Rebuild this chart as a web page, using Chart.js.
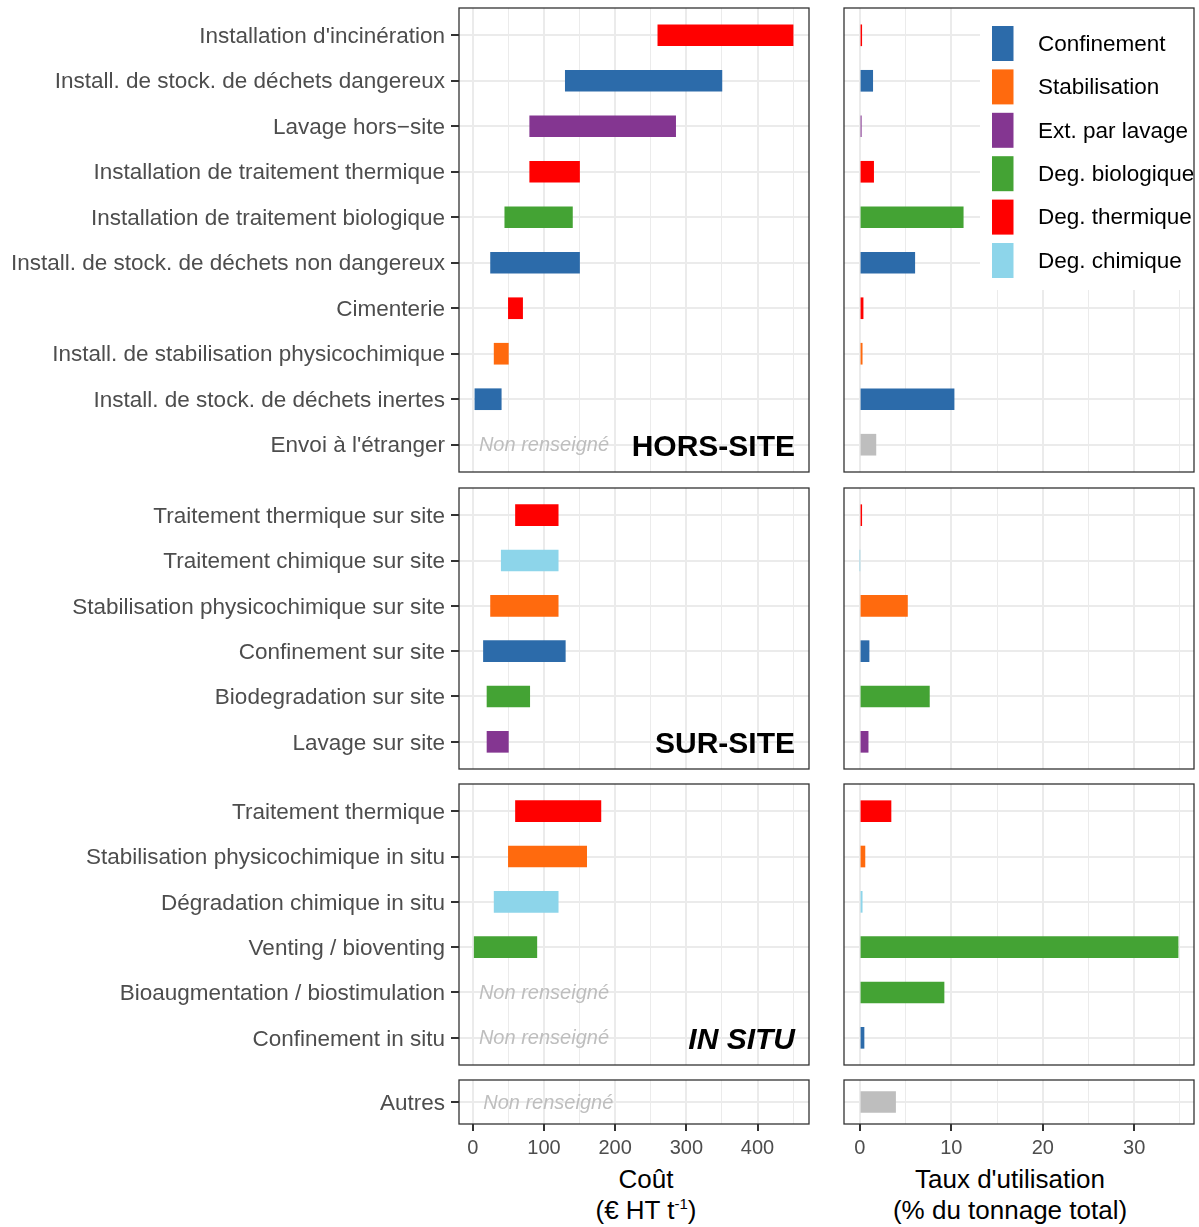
<!DOCTYPE html>
<html>
<head>
<meta charset="utf-8">
<script src="https://cdn.jsdelivr.net/npm/chart.js@4"></script>
<style>
  body { margin: 0; background: #fff; width: 1199px; height: 1227px; position: relative; overflow: hidden;
         font-family: 'Liberation Sans', Arial, Helvetica, sans-serif; }
  canvas { position: absolute; }
  .titre { position: absolute; width: 320px; text-align: center; font-size: 26px; line-height: 31px; color: #000; }
  .titre sup { font-size: 15px; line-height: 0; vertical-align: 10px; }
</style>
</head>
<body>
<div class="titre" style="left:486px; top:1164px;">Coût<br>(€ HT t<sup>-1</sup>)</div>
<div class="titre" style="left:850px; top:1164px;">Taux d'utilisation<br>(% du tonnage total)</div>
<script>
// TYPES DE TRAITEMENT (légende)
const types = ['Confinement', 'Stabilisation', 'Ext. par lavage', 'Deg. biologique', 'Deg. thermique', 'Deg. chimique'];
const typeColors = ['#2C6BAA', '#FF6A0E', '#843691', '#44A334', '#FF0000', '#8DD5EA'];
const autreColor = '#BEBEBE';

// graduations
const coutTicks = [0, 50, 100, 150, 200, 250, 300, 350, 400, 450];
const tauxTicks = [0, 5, 10, 15, 20, 25, 30, 35];

// HORS-SITE
const horsLabels = ["Installation d'incinération", "Install. de stock. de déchets dangereux", "Lavage hors\u2212site",
  "Installation de traitement thermique", "Installation de traitement biologique",
  "Install. de stock. de déchets non dangereux", "Cimenterie", "Install. de stabilisation physicochimique",
  "Install. de stock. de déchets inertes", "Envoi à l'étranger"];
const horsTypes = [4, 0, 2, 4, 3, 0, 4, 1, 0, -1];
const horsMin = [260, 130, 80, 80, 45, 25, 50, 30, 3, null];
const horsMax = [450, 350, 285, 150, 140, 150, 70, 50, 40, null];
const horsTaux = [0.2, 1.4, 0.15, 1.5, 11.3, 6.0, 0.35, 0.25, 10.3, 1.75];

// SUR-SITE
const surLabels = ['Traitement thermique sur site', 'Traitement chimique sur site', 'Stabilisation physicochimique sur site',
  'Confinement sur site', 'Biodegradation sur site', 'Lavage sur site'];
const surTypes = [4, 5, 1, 0, 3, 2];
const surMin = [60, 40, 25, 15, 20, 20];
const surMax = [120, 120, 120, 130, 80, 50];
const surTaux = [0.2, 0, 5.2, 1.0, 7.6, 0.9];

// IN SITU
const inLabels = ['Traitement thermique', 'Stabilisation physicochimique in situ', 'Dégradation chimique in situ',
  'Venting / bioventing', 'Bioaugmentation / biostimulation', 'Confinement in situ'];
const inTypes = [4, 1, 5, 3, 3, 0];
const inMin = [60, 50, 30, 2, null, null];
const inMax = [180, 160, 120, 90, null, null];
const inTaux = [3.4, 0.55, 0.25, 34.8, 9.2, 0.45];

// AUTRES
const autresLabels = ['Autres'];
const autresTypes = [-1];
const autresMin = [null];
const autresMax = [null];
const autresTaux = [3.9];

Chart.defaults.font.family = "'Liberation Sans', Arial, Helvetica, sans-serif";
Chart.defaults.animation = false;

const GRID = '#EBEBEB', INK = '#333333', TXT = '#4D4D4D';
const colorOf = t => t < 0 ? autreColor : typeColors[t];

function deco(p) {
  return {
    id: 'deco',
    afterDatasetsDraw(chart) {
      const { ctx, chartArea: a, scales } = chart;
      ctx.save();
      if (p.side === 'left') {
        ctx.font = 'italic 20px "Liberation Sans", Arial, sans-serif';
        ctx.fillStyle = '#BEBEBE';
        ctx.textAlign = 'center';
        ctx.textBaseline = 'middle';
        p.min.forEach((m, i) => {
          if (m == null) ctx.fillText('Non renseigné', scales.x.getPixelForValue(p.nrX), scales.y.getPixelForValue(i) + 1);
        });
        if (p.tag) {
          ctx.font = (p.italic ? 'italic ' : '') + 'bold 30px "Liberation Sans", Arial, sans-serif';
          ctx.fillStyle = '#000';
          ctx.textAlign = 'right';
          ctx.fillText(p.tag, a.right - 14, scales.y.getPixelForValue(p.labels.length - 1) + 3);
        }
      }
      if (p.legend) {
        ctx.beginPath();
        ctx.rect(a.left, a.top, a.right - a.left, a.bottom - a.top);
        ctx.clip();
        ctx.fillStyle = '#fff';
        ctx.fillRect(a.left + 136, a.top, a.right - a.left - 136, 282);
        ctx.font = '22.5px "Liberation Sans", Arial, sans-serif';
        ctx.textAlign = 'left';
        ctx.textBaseline = 'middle';
        types.forEach((t, k) => {
          const cy = a.top + 35.5 + 43.4 * k;
          ctx.fillStyle = typeColors[k];
          ctx.fillRect(a.left + 148, cy - 17.5, 21.5, 35);
          ctx.fillStyle = '#000';
          ctx.fillText(t, a.left + 194, cy + 1);
        });
      }
      ctx.restore();
      ctx.save();
      ctx.strokeStyle = INK;
      ctx.lineWidth = 1.3;
      ctx.strokeRect(a.left, a.top, a.right - a.left, a.bottom - a.top);
      ctx.restore();
    }
  };
}

function panel(p) {
  const pad = 8;
  const isLeft = p.side === 'left';
  const xH = p.axis ? 46 : 0;
  const left = isLeft ? 0 : 830, width = isLeft ? 820 : 369;
  const top = p.top - pad;
  const height = p.bottom - p.top + pad + (p.axis ? xH : pad);

  const c = document.createElement('canvas');
  c.width = width; c.height = height;
  c.style.left = left + 'px'; c.style.top = top + 'px';
  document.body.appendChild(c);

  let data;
  if (isLeft) {
    data = p.labels.map((_, i) => ({ y: i, x: [p.min[i], p.max[i]] })).filter(d => p.min[d.y] != null);
  } else {
    data = p.vals.map((v, i) => ({ y: i, x: v }));
  }
  const colors = data.map(d => colorOf(p.types[d.y]));
  const xTicks = isLeft ? coutTicks : tauxTicks;
  const major = isLeft ? 100 : 10;

  new Chart(c, {
    type: 'bar',
    data: { datasets: [{ data, backgroundColor: colors, borderWidth: 0, barThickness: 21 }] },
    options: {
      indexAxis: 'y',
      responsive: false,
      layout: { padding: { left: 0, right: isLeft ? 11 : 5, top: pad, bottom: p.axis ? 0 : pad } },
      plugins: { legend: { display: false }, tooltip: { enabled: false } },
      scales: {
        x: {
          type: 'linear',
          min: isLeft ? -19.35 : -1.74,
          max: isLeft ? 472.35 : 36.54,
          afterBuildTicks: s => { s.ticks = xTicks.map(v => ({ value: v })); },
          afterFit: s => { s.height = xH; },
          border: { display: false },
          grid: {
            color: GRID,
            lineWidth: ctx => ctx.tick && ctx.tick.value % major === 0 ? 2 : 1,
            drawTicks: !!p.axis,
            tickLength: 7,
            tickWidth: 2,
            tickColor: ctx => ctx.tick && ctx.tick.value % major === 0 ? INK : 'rgba(0,0,0,0)'
          },
          ticks: {
            display: !!p.axis,
            autoSkip: false,
            maxRotation: 0,
            padding: 5,
            color: TXT,
            font: { size: 20 },
            callback: v => v % major === 0 ? String(v) : ''
          }
        },
        y: {
          type: 'linear',
          reverse: true,
          offset: false,
          min: -0.6,
          max: p.labels.length - 0.4,
          afterBuildTicks: s => { s.ticks = p.labels.map((_, i) => ({ value: i })); },
          afterFit: s => { s.width = isLeft ? 459 : 14; s.paddingTop = 0; s.paddingBottom = 0; },
          border: { display: false },
          grid: { offset: false, color: GRID, lineWidth: 2, drawTicks: isLeft, tickLength: 8, tickWidth: 2, tickColor: INK },
          ticks: {
            display: isLeft,
            autoSkip: false,
            padding: 6,
            labelOffset: 1.5,
            color: TXT,
            font: { size: 22.5 },
            callback: v => p.labels[v]
          }
        }
      }
    },
    plugins: [deco(p)]
  });
}

const rows = [
  { top: 8, bottom: 472, labels: horsLabels, types: horsTypes, min: horsMin, max: horsMax, vals: horsTaux, tag: 'HORS-SITE', nrX: 100 },
  { top: 487.5, bottom: 769, labels: surLabels, types: surTypes, min: surMin, max: surMax, vals: surTaux, tag: 'SUR-SITE', nrX: 100 },
  { top: 784, bottom: 1065, labels: inLabels, types: inTypes, min: inMin, max: inMax, vals: inTaux, tag: 'IN SITU', italic: true, nrX: 100 },
  { top: 1080, bottom: 1124, labels: autresLabels, types: autresTypes, min: autresMin, max: autresMax, vals: autresTaux, axis: true, nrX: 106 }
];

rows.forEach((r, k) => {
  panel(Object.assign({}, r, { side: 'left' }));
  panel(Object.assign({}, r, { side: 'right', tag: null, legend: k === 0 }));
});
</script>
</body>
</html>
